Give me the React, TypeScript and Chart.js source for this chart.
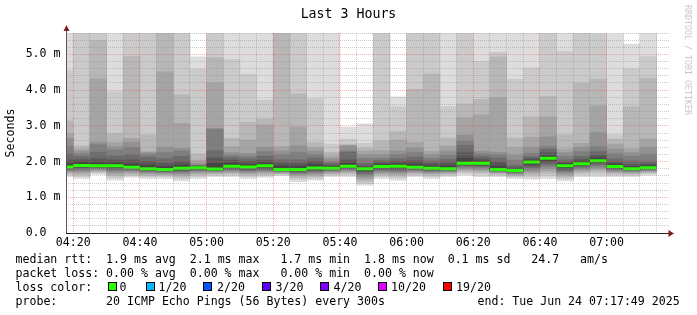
import React, { useEffect, useRef } from "react";
import { Chart, registerables } from "chart.js";

Chart.register(...registerables);

// ---------------- data ----------------
// 5-minute bins (start time of each bin)
const binStart = [
  "04:15", "04:20", "04:25", "04:30", "04:35", "04:40", "04:45", "04:50", "04:55",
  "05:00", "05:05", "05:10", "05:15", "05:20", "05:25", "05:30", "05:35", "05:40", "05:45", "05:50", "05:55",
  "06:00", "06:05", "06:10", "06:15", "06:20", "06:25", "06:30", "06:35", "06:40", "06:45", "06:50", "06:55",
  "07:00", "07:05", "07:10",
];
const binMinutes = 5;
const viewStart = "04:17:49";
const viewMinutes = 180.9;
const xTickLabels = ["04:20", "04:40", "05:00", "05:20", "05:40", "06:00", "06:20", "06:40", "07:00"];
const yTickLabels = ["0.0", "1.0 m", "2.0 m", "3.0 m", "4.0 m", "5.0 m"];
const yMaxMs = 5.6;

// median rtt (ms) per bin
const median = [
  1.85, 1.89, 1.88, 1.88, 1.84, 1.80, 1.78, 1.81, 1.83, 1.79, 1.87, 1.85, 1.88, 1.78, 1.78, 1.82, 1.81, 1.87,
  1.80, 1.86, 1.87, 1.84, 1.81, 1.80, 1.95, 1.95, 1.78, 1.75, 1.99, 2.09, 1.88, 1.94, 2.02, 1.86, 1.80, 1.83,
];

// sorted ping rtts (ms) per bin: ping01 = fastest ... ping20 = slowest
const ping01 = [1.58, 1.53, 1.64, 1.48, 1.56, 1.53, 1.53, 1.46, 1.53, 1.58, 1.58, 1.53, 1.56, 1.60, 1.44, 1.48, 1.58, 1.58, 1.34, 1.53, 1.48, 1.58, 1.53, 1.58, 1.62, 1.58, 1.58, 1.53, 1.51, 1.53, 1.46, 1.58, 1.58, 1.58, 1.58, 1.62];
const ping02 = [1.62, 1.58, 1.68, 1.54, 1.60, 1.57, 1.57, 1.52, 1.58, 1.62, 1.62, 1.58, 1.60, 1.63, 1.50, 1.53, 1.62, 1.63, 1.39, 1.58, 1.54, 1.62, 1.58, 1.62, 1.67, 1.64, 1.62, 1.57, 1.57, 1.60, 1.52, 1.63, 1.65, 1.62, 1.62, 1.66];
const ping03 = [1.66, 1.63, 1.71, 1.60, 1.64, 1.61, 1.61, 1.57, 1.63, 1.65, 1.66, 1.62, 1.64, 1.66, 1.55, 1.58, 1.65, 1.67, 1.45, 1.62, 1.59, 1.65, 1.62, 1.65, 1.72, 1.69, 1.65, 1.60, 1.63, 1.67, 1.57, 1.68, 1.71, 1.66, 1.65, 1.69];
const ping04 = [1.70, 1.68, 1.74, 1.65, 1.68, 1.65, 1.64, 1.62, 1.67, 1.68, 1.70, 1.66, 1.68, 1.68, 1.60, 1.62, 1.68, 1.71, 1.51, 1.66, 1.64, 1.69, 1.66, 1.68, 1.76, 1.74, 1.68, 1.63, 1.68, 1.74, 1.62, 1.73, 1.77, 1.70, 1.68, 1.72];
const ping05 = [1.73, 1.72, 1.77, 1.70, 1.72, 1.68, 1.67, 1.66, 1.71, 1.71, 1.73, 1.70, 1.72, 1.70, 1.64, 1.66, 1.71, 1.74, 1.57, 1.70, 1.68, 1.72, 1.69, 1.71, 1.80, 1.78, 1.70, 1.66, 1.73, 1.80, 1.67, 1.77, 1.82, 1.73, 1.71, 1.74];
const ping06 = [1.76, 1.76, 1.80, 1.74, 1.75, 1.71, 1.70, 1.70, 1.74, 1.73, 1.76, 1.73, 1.75, 1.72, 1.67, 1.70, 1.74, 1.77, 1.62, 1.74, 1.72, 1.75, 1.72, 1.73, 1.84, 1.82, 1.72, 1.68, 1.78, 1.86, 1.71, 1.81, 1.87, 1.76, 1.73, 1.76];
const ping07 = [1.78, 1.80, 1.82, 1.78, 1.78, 1.74, 1.72, 1.73, 1.77, 1.75, 1.79, 1.76, 1.78, 1.74, 1.70, 1.73, 1.76, 1.80, 1.67, 1.77, 1.76, 1.78, 1.75, 1.75, 1.87, 1.86, 1.74, 1.70, 1.83, 1.92, 1.75, 1.85, 1.92, 1.79, 1.75, 1.78];
const ping08 = [1.80, 1.83, 1.84, 1.82, 1.80, 1.76, 1.74, 1.76, 1.79, 1.76, 1.82, 1.79, 1.81, 1.75, 1.73, 1.76, 1.78, 1.82, 1.72, 1.80, 1.80, 1.80, 1.77, 1.77, 1.90, 1.89, 1.75, 1.72, 1.88, 1.98, 1.79, 1.88, 1.96, 1.81, 1.77, 1.80];
const ping09 = [1.82, 1.86, 1.86, 1.85, 1.82, 1.78, 1.76, 1.78, 1.81, 1.77, 1.84, 1.82, 1.84, 1.76, 1.75, 1.79, 1.79, 1.84, 1.76, 1.83, 1.83, 1.82, 1.79, 1.78, 1.92, 1.92, 1.76, 1.73, 1.93, 2.03, 1.83, 1.91, 1.99, 1.83, 1.78, 1.81];
const ping10 = [1.84, 1.88, 1.87, 1.87, 1.83, 1.79, 1.77, 1.80, 1.82, 1.78, 1.86, 1.84, 1.86, 1.77, 1.77, 1.81, 1.80, 1.86, 1.79, 1.85, 1.85, 1.83, 1.80, 1.79, 1.94, 1.94, 1.77, 1.74, 1.97, 2.07, 1.86, 1.93, 2.01, 1.85, 1.79, 1.82];
const ping11 = [1.87, 1.91, 1.90, 1.90, 1.86, 1.83, 1.81, 1.84, 1.85, 1.82, 1.90, 1.87, 1.91, 1.81, 1.81, 1.85, 1.83, 1.90, 1.82, 1.89, 1.90, 1.87, 1.84, 1.83, 1.99, 1.98, 1.81, 1.77, 2.02, 2.12, 1.91, 1.97, 2.05, 1.89, 1.83, 1.85];
const ping12 = [1.94, 1.98, 1.97, 1.96, 1.93, 1.90, 1.86, 1.90, 1.86, 1.95, 1.96, 1.92, 1.96, 1.88, 1.87, 1.92, 1.86, 1.95, 1.84, 1.92, 1.94, 1.93, 1.88, 1.88, 2.10, 2.02, 1.88, 1.79, 2.04, 2.16, 1.94, 2.00, 2.10, 1.93, 1.86, 1.88];
const ping13 = [2.05, 2.05, 2.08, 2.05, 2.05, 2.00, 1.95, 2.00, 1.87, 2.10, 2.04, 2.00, 2.04, 1.96, 1.95, 2.00, 1.90, 2.05, 1.88, 1.97, 2.00, 2.02, 1.95, 1.96, 2.25, 2.08, 1.98, 1.83, 2.08, 2.25, 1.98, 2.06, 2.18, 1.98, 1.92, 1.93];
const ping14 = [2.22, 2.14, 2.25, 2.16, 2.20, 2.12, 2.08, 2.15, 1.88, 2.30, 2.12, 2.08, 2.15, 2.05, 2.05, 2.10, 1.95, 2.26, 1.95, 2.03, 2.08, 2.12, 2.02, 2.06, 2.45, 2.15, 2.10, 1.90, 2.14, 2.35, 2.05, 2.15, 2.28, 2.08, 2.02, 2.00];
const ping15 = [2.43, 2.22, 2.47, 2.33, 2.40, 2.20, 2.25, 2.30, 1.90, 2.90, 2.18, 2.15, 2.28, 2.20, 2.25, 2.20, 2.00, 2.30, 2.10, 2.10, 2.20, 2.25, 2.10, 2.18, 2.58, 2.22, 2.20, 2.04, 2.23, 2.42, 2.15, 2.28, 2.42, 2.22, 2.15, 2.20];
const ping16 = [2.65, 2.29, 2.54, 2.42, 2.54, 2.25, 2.40, 2.37, 1.95, 2.93, 2.25, 2.23, 2.40, 2.30, 2.44, 2.30, 2.08, 2.44, 2.20, 2.20, 2.30, 2.38, 2.20, 2.30, 2.74, 2.29, 2.26, 2.18, 2.40, 2.69, 2.25, 2.40, 2.81, 2.35, 2.25, 2.40];
const ping17 = [2.79, 2.35, 4.32, 2.54, 2.65, 2.28, 4.51, 3.07, 2.04, 4.21, 2.42, 2.60, 3.02, 2.42, 2.97, 2.40, 2.15, 2.46, 2.30, 2.31, 2.60, 2.54, 2.29, 2.44, 3.23, 3.31, 3.79, 2.40, 2.68, 3.25, 2.35, 2.51, 3.56, 2.49, 2.36, 2.64];
const ping18 = [3.14, 2.44, 5.39, 2.79, 4.95, 2.75, 5.60, 3.87, 2.21, 4.91, 2.65, 3.10, 3.19, 5.60, 3.90, 2.53, 2.26, 2.47, 2.38, 2.58, 2.84, 4.02, 4.45, 2.66, 3.62, 3.74, 4.93, 2.66, 3.25, 3.83, 2.75, 4.20, 4.31, 2.63, 3.54, 4.33];
const ping19 = [4.55, 5.60, 5.60, 3.95, 5.60, 5.60, 5.60, 5.60, 4.58, 5.60, 4.86, 4.45, 3.72, 5.60, 5.60, 3.76, 2.49, 2.63, 2.51, 5.60, 3.53, 5.60, 5.60, 3.54, 5.60, 4.81, 5.06, 4.30, 4.62, 5.60, 5.08, 5.60, 5.56, 2.75, 4.60, 4.95];
const ping20 = [5.60, 5.60, 5.60, 5.60, 5.60, 5.60, 5.60, 5.60, 4.93, 5.60, 5.60, 5.60, 5.60, 5.60, 5.60, 5.60, 5.60, 2.97, 3.06, 5.60, 3.81, 5.60, 5.60, 5.60, 5.60, 5.60, 5.60, 5.60, 5.60, 5.60, 5.60, 5.60, 5.60, 5.58, 5.29, 5.60];

// smoke shades, outermost (ping01..ping20) first
const smokeColors = ["#dddddd", "#cacaca", "#b7b7b7", "#a4a4a4", "#919191", "#7e7e7e", "#6b6b6b", "#585858", "#454545", "#323232"];
const medianColor = "#26ff00";
const lossLabels = ["0", "1/20", "2/20", "3/20", "4/20", "10/20", "19/20"];
const lossColors = ["#26ff00", "#00b8ff", "#0059ff", "#5e00ff", "#7e00ff", "#dd00ff", "#ff0000"];

const titleText = "Last 3 Hours";
const yTitle = "Seconds";
const legendRtt = "median rtt:  1.9 ms avg  2.1 ms max   1.7 ms min  1.8 ms now  0.1 ms sd   24.7   am/s";
const legendLoss = "packet loss: 0.00 % avg  0.00 % max   0.00 % min  0.00 % now";
const legendLossColor = "loss color:";
const legendProbe = "probe:       20 ICMP Echo Pings (56 Bytes) every 300s";
const legendEnd = "end: Tue Jun 24 07:17:49 2025";
const watermark = "RRDTOOL / TOBI OETIKER";

// ---------------- helpers ----------------
const MONO = "'DejaVu Sans Mono', monospace";
const toMin = (s: string) => {
  const [h, m, sec] = s.split(":").map(Number);
  return (h - 4) * 60 + m + (sec || 0) / 60;
};
const fmtMin = (t: number) => {
  const tot = Math.round(t) + 240;
  const h = Math.floor(tot / 60);
  const m = tot % 60;
  return String(h).padStart(2, "0") + ":" + String(m).padStart(2, "0");
};

const pings = [ping01, ping02, ping03, ping04, ping05, ping06, ping07, ping08, ping09, ping10,
  ping11, ping12, ping13, ping14, ping15, ping16, ping17, ping18, ping19, ping20];

const GRID_MINOR = "rgba(143,143,143,0.45)";
const GRID_MAJOR = "rgba(222,79,79,0.45)";
const TICK_FONT = { family: "DejaVu Sans Mono", size: 11.58 };

const axisArrows = {
  id: "axisArrows",
  afterDraw(chart: any) {
    const { ctx, chartArea: a } = chart;
    ctx.save();
    ctx.lineWidth = 1;
    // y axis
    ctx.strokeStyle = "#555555";
    ctx.beginPath();
    ctx.moveTo(a.left + 0.5, a.bottom + 1);
    ctx.lineTo(a.left + 0.5, a.top - 2);
    ctx.stroke();
    // x axis
    ctx.strokeStyle = "#1f1f1f";
    ctx.beginPath();
    ctx.moveTo(a.left, a.bottom + 0.5);
    ctx.lineTo(a.right + 1, a.bottom + 0.5);
    ctx.stroke();
    ctx.fillStyle = "rgb(128,31,31)";
    ctx.beginPath();
    ctx.moveTo(a.left - 2.5, a.top - 2);
    ctx.lineTo(a.left + 3.5, a.top - 2);
    ctx.lineTo(a.left + 0.5, a.top - 8);
    ctx.closePath();
    ctx.fill();
    ctx.beginPath();
    ctx.moveTo(a.right - 0.5, a.bottom - 3);
    ctx.lineTo(a.right - 0.5, a.bottom + 4);
    ctx.lineTo(a.right + 5, a.bottom + 0.5);
    ctx.closePath();
    ctx.fill();
    ctx.restore();
  },
};

export default function App() {
  const ref = useRef<HTMLCanvasElement>(null);

  useEffect(() => {
    const canvas = ref.current;
    if (!canvas) return;
    Chart.defaults.font.family = "DejaVu Sans Mono";

    const xMin = toMin(viewStart);
    const xMax = xMin + viewMinutes;
    const centers = binStart.map((s) => toMin(s) + binMinutes / 2);

    const bands = smokeColors.map((color, k) => ({
      type: "bar" as const,
      label: "smoke" + (k + 1),
      data: centers.map((x, i) => ({ x, y: [pings[k][i], pings[19 - k][i]] })),
      backgroundColor: color,
      borderWidth: 0,
      barPercentage: 1,
      categoryPercentage: 1,
      grouped: false,
      order: 10 - k,
      clip: 0,
    }));

    // one flat segment per bin, no vertical joins between bins
    const medianLine = {
      type: "line" as const,
      label: "median",
      data: binStart.flatMap((s, i) => [
        { x: toMin(s), y: median[i] },
        { x: toMin(s) + binMinutes, y: median[i] },
        { x: toMin(s) + binMinutes, y: null },
      ]),
      borderColor: medianColor,
      backgroundColor: medianColor,
      borderWidth: 3,
      pointRadius: 0,
      fill: false,
      tension: 0,
      spanGaps: false,
      order: 0,
      clip: 0,
      borderCapStyle: "butt",
      borderJoinStyle: "miter",
    };

    const chart = new Chart(canvas, {
      type: "bar",
      data: { datasets: [medianLine as any, ...bands] },
      options: {
        responsive: false,
        animation: false,
        devicePixelRatio: 1,
        events: [],
        layout: { padding: { top: 33, right: 28, left: 0, bottom: 0 } },
        plugins: {
          legend: { display: false },
          tooltip: { enabled: false },
          title: { display: false },
        },
        scales: {
          x: {
            type: "linear",
            min: xMin,
            max: xMax,
            offset: false,
            grid: {
              offset: false,
              drawTicks: false,
              lineWidth: 1,
              z: 1,
              color: (c: any) => {
                const v = c.tick ? c.tick.value : 0;
                return Math.abs(v % 20) < 1e-6 ? GRID_MAJOR : GRID_MINOR;
              },
            },
            border: { display: false, dash: [1, 1] },
            ticks: {
              autoSkip: false,
              maxRotation: 0,
              minRotation: 0,
              padding: 3,
              color: "#000",
              font: TICK_FONT,
              callback: (v: any) => {
                const s = fmtMin(Number(v));
                return xTickLabels.includes(s) ? s : "";
              },
            },
            afterBuildTicks: (s: any) => {
              const ticks = [];
              for (let t = Math.ceil(s.min / binMinutes) * binMinutes; t <= s.max; t += binMinutes) ticks.push({ value: t });
              s.ticks = ticks;
            },
            afterFit: (s: any) => {
              s.height = 82;
            },
          },
          y: {
            type: "linear",
            min: 0,
            max: yMaxMs,
            grid: {
              drawTicks: false,
              lineWidth: 1,
              z: 1,
              color: (c: any) => {
                const v = c.tick ? c.tick.value : 0;
                return Math.abs(v - Math.round(v)) < 1e-9 ? GRID_MAJOR : GRID_MINOR;
              },
            },
            border: { display: false, dash: [1, 1] },
            title: {
              display: true,
              text: yTitle,
              color: "#000",
              font: TICK_FONT,
              padding: { top: 4, bottom: 0 },
            },
            ticks: {
              autoSkip: false,
              padding: 5.5,
              color: "#000",
              font: TICK_FONT,
              callback: (v: any) => {
                const n = Number(v);
                const i = Math.round(n);
                if (Math.abs(n - i) > 1e-9 || i >= yTickLabels.length) return "";
                return yTickLabels[i].padEnd(5, " ");
              },
            },
            afterBuildTicks: (s: any) => {
              const ticks = [];
              const n = Math.round(yMaxMs * 5);
              for (let i = 0; i <= n; i++) ticks.push({ value: (i * 2) / 10 });
              s.ticks = ticks;
            },
            afterFit: (s: any) => {
              s.width = 66;
            },
          },
        },
      } as any,
      plugins: [axisArrows],
    });
    return () => chart.destroy();
  }, []);

  const boxLeft = [108, 145.5, 203, 261.5, 320, 377.5, 443];
  const labelLeft = [119.5, 158.5, 217, 275.5, 333.5, 391, 456];

  const line = (top: number, left: number, text: string, extra: any = {}) => (
    <div
      style={{
        position: "absolute",
        left,
        top,
        fontFamily: MONO,
        fontSize: 11.58,
        lineHeight: "14px",
        whiteSpace: "pre",
        color: "#000",
        ...extra,
      }}
    >
      {text}
    </div>
  );

  return (
    <div
      style={{
        position: "fixed",
        left: 0,
        top: 0,
        width: 697,
        height: 315,
        background: "#ffffff",
        overflow: "hidden",
      }}
    >
      <canvas ref={ref} width={697} height={315} style={{ position: "absolute", left: 0, top: 0, width: 697, height: 315 }} />
      <div
        style={{
          position: "absolute",
          left: 0,
          top: 6,
          width: 697,
          textAlign: "center",
          fontFamily: MONO,
          fontSize: 13.26,
          lineHeight: "16px",
          whiteSpace: "pre",
          color: "#000",
        }}
      >
        {titleText}
      </div>
      <div
        style={{
          position: "absolute",
          left: 682,
          top: 5,
          writingMode: "vertical-rl",
          fontFamily: MONO,
          fontSize: 8.3,
          lineHeight: "12px",
          whiteSpace: "pre",
          color: "#c8c8c8",
        }}
      >
        {watermark}
      </div>
      {line(252, 15.5, legendRtt)}
      {line(266, 15.5, legendLoss)}
      {line(280, 15.5, legendLossColor)}
      {lossLabels.map((lab, i) => (
        <React.Fragment key={lab}>
          <div
            style={{
              position: "absolute",
              left: boxLeft[i],
              top: 282,
              width: 9,
              height: 9,
              boxSizing: "border-box",
              border: "1px solid #000",
              background: lossColors[i],
            }}
          />
          {line(280, labelLeft[i], lab)}
        </React.Fragment>
      ))}
      {line(294, 15.5, legendProbe)}
      {line(294, 477.5, legendEnd)}
    </div>
  );
}
